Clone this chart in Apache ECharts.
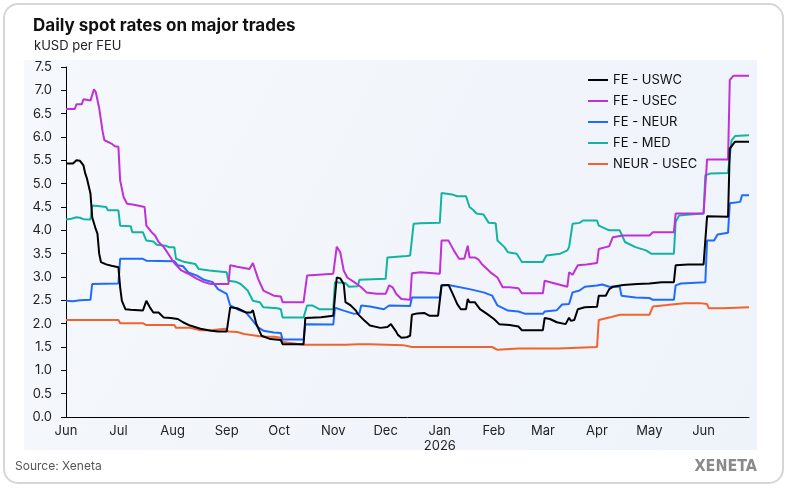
<!DOCTYPE html>
<html>
<head>
<meta charset="utf-8">
<script src="https://cdn.jsdelivr.net/npm/echarts@6/dist/echarts.min.js"></script>
<style>
  html, body { margin: 0; padding: 0; background: #fff; }
  #chart { width: 790px; height: 490px; }
</style>
</head>
<body>
<div id="chart"></div>
<script>
// day offset from 1 Jun 2025, value in kUSD/FEU
const startDate = Date.UTC(2025, 5, 1)
const endDay = 391
const monthNames = ['Jan', 'Feb', 'Mar', 'Apr', 'May', 'Jun', 'Jul', 'Aug', 'Sep', 'Oct', 'Nov', 'Dec']
const seriesNames = ['FE - USWC', 'FE - USEC', 'FE - NEUR', 'FE - MED', 'NEUR - USEC']
const seriesColors = ['#000000', '#c030d6', '#1f6bff', '#13b3a1', '#f0632f']

const uswc = [
  [0, 5.43], [4, 5.43], [6, 5.50], [8, 5.49], [10, 5.39], [11, 5.22], [12, 5.11], [14, 4.79],
  [15, 4.28], [17, 4.03], [18, 3.93], [19, 3.50], [20, 3.32], [23, 3.27], [26, 3.24], [30, 3.21],
  [31, 2.78], [32, 2.49], [34, 2.31], [37, 2.30], [44, 2.28], [46, 2.49], [48, 2.35], [50, 2.24],
  [53, 2.24], [56, 2.13], [60, 2.12], [64, 2.10], [67, 2.03], [71, 1.96], [77, 1.89], [83, 1.85],
  [87, 1.83], [92, 1.83], [94, 2.35], [98, 2.33], [103, 2.24], [106, 2.24], [107, 2.29], [109, 1.99],
  [112, 1.74], [117, 1.67], [123, 1.65], [124, 1.56], [136, 1.56], [137, 2.12], [146, 2.14], [153, 2.17],
  [155, 2.99], [157, 2.97], [159, 2.85], [160, 2.46], [163, 2.39], [166, 2.28], [167, 2.21], [171, 2.06],
  [174, 1.96], [180, 1.91], [184, 1.93], [186, 1.99], [189, 1.83], [190, 1.76], [192, 1.70], [195, 1.71],
  [197, 1.74], [198, 2.19], [201, 2.22], [205, 2.23], [208, 2.17], [213, 2.17], [215, 2.82], [219, 2.83],
  [221, 2.67], [224, 2.42], [226, 2.31], [229, 2.31], [230, 2.53], [231, 2.46], [234, 2.46], [235, 2.48],
  [237, 2.31], [241, 2.21], [245, 2.10], [248, 1.99], [254, 1.97], [259, 1.94], [261, 1.86], [273, 1.86],
  [274, 2.12], [277, 2.10], [281, 2.03], [286, 1.99], [288, 2.13], [289, 2.06], [291, 2.08], [293, 2.31],
  [297, 2.35], [304, 2.36], [305, 2.60], [309, 2.60], [311, 2.74], [313, 2.79], [319, 2.83], [327, 2.85],
  [334, 2.86], [341, 2.89], [348, 2.89], [349, 3.25], [356, 3.27], [365, 3.27], [367, 4.30], [379, 4.29],
  [380, 5.75], [383, 5.90], [391, 5.90]
]

const usec = [
  [0, 6.60], [5, 6.60], [6, 6.70], [9, 6.70], [10, 6.81], [14, 6.78], [16, 7.02], [17, 6.97],
  [19, 6.62], [20, 6.58], [21, 6.11], [22, 5.93], [26, 5.86], [28, 5.80], [30, 5.79], [31, 5.07],
  [33, 4.71], [35, 4.57], [39, 4.55], [45, 4.50], [46, 4.10], [49, 3.96], [51, 3.89], [53, 3.75],
  [56, 3.64], [62, 3.30], [66, 3.14], [70, 3.07], [75, 2.96], [79, 2.89], [83, 2.85], [93, 2.85],
  [94, 3.25], [98, 3.22], [105, 3.17], [107, 3.30], [110, 2.96], [113, 2.71], [119, 2.60], [123, 2.58],
  [124, 2.46], [136, 2.46], [138, 3.03], [153, 3.07], [155, 3.65], [157, 3.53], [159, 3.14], [161, 2.99],
  [165, 2.89], [169, 2.78], [172, 2.67], [178, 2.64], [183, 2.64], [185, 2.82], [187, 2.78], [189, 2.64],
  [192, 2.53], [197, 2.51], [198, 3.08], [203, 3.10], [214, 3.07], [215, 3.78], [219, 3.78], [222, 3.57],
  [225, 3.39], [228, 3.39], [230, 3.67], [231, 3.42], [234, 3.42], [236, 3.38], [238, 3.28], [243, 3.10],
  [247, 2.99], [250, 2.78], [254, 2.78], [259, 2.76], [261, 2.65], [273, 2.65], [274, 2.92], [281, 2.85],
  [287, 2.79], [288, 3.10], [290, 3.05], [291, 3.04], [293, 3.25], [298, 3.27], [304, 3.30], [305, 3.60],
  [309, 3.64], [311, 3.66], [313, 3.85], [319, 3.89], [334, 3.89], [336, 3.96], [348, 3.96], [349, 4.36],
  [365, 4.36], [367, 5.52], [379, 5.52], [380, 7.22], [382, 7.31], [391, 7.31]
]

const neur = [
  [0, 2.49], [4, 2.48], [8, 2.50], [14, 2.51], [15, 2.85], [30, 2.86], [31, 3.39], [44, 3.39],
  [46, 3.35], [62, 3.34], [64, 3.25], [67, 3.23], [70, 3.10], [75, 3.03], [79, 2.94], [84, 2.89],
  [87, 2.74], [92, 2.64], [94, 2.39], [98, 2.31], [103, 2.24], [107, 2.06], [110, 1.92], [113, 1.85],
  [119, 1.81], [123, 1.80], [124, 1.66], [136, 1.66], [137, 1.99], [153, 1.98], [154, 2.34], [159, 2.28],
  [165, 2.21], [168, 2.23], [169, 2.39], [174, 2.37], [182, 2.31], [185, 2.39], [197, 2.38], [198, 2.56],
  [214, 2.56], [215, 2.83], [219, 2.83], [231, 2.74], [239, 2.67], [244, 2.60], [247, 2.39], [253, 2.28],
  [259, 2.26], [263, 2.21], [273, 2.21], [274, 2.26], [281, 2.29], [284, 2.41], [288, 2.42], [290, 2.67],
  [294, 2.71], [297, 2.79], [304, 2.82], [307, 2.84], [311, 2.79], [317, 2.79], [318, 2.60], [326, 2.56],
  [334, 2.55], [336, 2.51], [348, 2.51], [349, 2.82], [352, 2.86], [366, 2.89], [367, 3.78], [371, 3.78],
  [373, 3.91], [379, 3.95], [380, 4.58], [386, 4.61], [387, 4.75], [391, 4.75]
]

const med = [
  [0, 4.23], [3, 4.25], [6, 4.28], [8, 4.27], [10, 4.24], [14, 4.23], [15, 4.53], [18, 4.52],
  [23, 4.50], [24, 4.43], [30, 4.43], [31, 4.10], [37, 4.09], [38, 3.96], [44, 3.96], [46, 3.78],
  [50, 3.76], [52, 3.69], [57, 3.67], [59, 3.64], [62, 3.64], [63, 3.39], [68, 3.32], [74, 3.28],
  [76, 3.17], [82, 3.14], [92, 3.10], [93, 2.92], [97, 2.90], [100, 2.85], [104, 2.71], [107, 2.49],
  [111, 2.46], [113, 2.35], [121, 2.33], [123, 2.31], [124, 2.13], [136, 2.13], [138, 2.39], [141, 2.39],
  [145, 2.31], [153, 2.31], [154, 2.89], [160, 2.87], [162, 2.79], [167, 2.80], [168, 2.94], [183, 2.96],
  [184, 3.42], [195, 3.45], [197, 3.46], [199, 4.14], [203, 4.15], [214, 4.16], [215, 4.80], [221, 4.77],
  [224, 4.73], [229, 4.73], [231, 4.50], [233, 4.44], [235, 4.36], [239, 4.34], [242, 4.16], [246, 4.15],
  [247, 3.78], [251, 3.64], [253, 3.53], [258, 3.50], [259, 3.49], [261, 3.32], [273, 3.32], [275, 3.46],
  [283, 3.50], [287, 3.57], [288, 3.64], [290, 4.14], [294, 4.16], [296, 4.21], [304, 4.21], [305, 4.10],
  [311, 4.00], [317, 4.00], [320, 3.75], [326, 3.64], [332, 3.57], [335, 3.50], [348, 3.50], [349, 4.18],
  [351, 4.32], [357, 4.34], [365, 4.36], [366, 5.18], [369, 5.22], [379, 5.23], [381, 5.93], [383, 6.02],
  [391, 6.04]
]

const neurUsec = [
  [0, 2.08], [30, 2.08], [31, 2.01], [44, 2.01], [46, 1.97], [62, 1.97], [63, 1.91], [71, 1.91],
  [77, 1.86], [83, 1.86], [91, 1.89], [93, 1.83], [98, 1.82], [102, 1.78], [113, 1.72], [119, 1.72],
  [123, 1.70], [124, 1.61], [136, 1.55], [160, 1.55], [167, 1.56], [174, 1.56], [193, 1.54], [198, 1.50],
  [220, 1.50], [244, 1.50], [247, 1.44], [259, 1.47], [282, 1.47], [283, 1.50], [304, 1.50], [305, 2.08],
  [311, 2.13], [317, 2.19], [334, 2.19], [336, 2.37], [344, 2.40], [354, 2.44], [363, 2.44], [367, 2.42],
  [368, 2.33], [376, 2.33], [391, 2.35]
]

const yTicks = { min: 0, max: 7.5, step: 0.5 }

const DAY = 86400000
const toPoints = arr => arr.map(p => [startDate + p[0] * DAY, p[1]])
const allData = [uswc, usec, neur, med, neurUsec]

const FONT = 'Inter'

const option = {
  useUTC: true,
  animation: false,
  textStyle: { fontFamily: FONT },
  title: [
    {
      text: 'Daily spot rates on major trades',
      left: 28,
      top: 12,
      textStyle: { fontSize: 17, fontWeight: 'bold', color: '#111', fontFamily: FONT }
    },
    {
      text: 'kUSD per FEU',
      left: 29,
      top: 35,
      textStyle: { fontSize: 13, fontWeight: 'normal', color: '#222', fontFamily: FONT }
    }
  ],
  graphic: [
    {
      type: 'rect',
      z: -10,
      shape: { x: 4, y: 4, width: 779, height: 479, r: 14 },
      style: { fill: '#fff', stroke: '#d6d6d6', lineWidth: 2 }
    },
    {
      type: 'rect',
      z: -9,
      shape: { x: 24, y: 60, width: 733, height: 390 },
      style: {
        fill: new echarts.graphic.LinearGradient(0, 0, 1, 1, [
          { offset: 0, color: '#f5f8fc' },
          { offset: 1, color: '#eef3fa' }
        ])
      }
    },
    {
      type: 'text',
      left: 15,
      top: 460,
      style: { text: 'Source: Xeneta', fontSize: 12, fill: '#555', fontFamily: FONT }
    },
    {
      type: 'text',
      right: 33,
      top: 459,
      style: { text: 'XENETA', font: 'bold 16px "DejaVu Sans Condensed"', fill: '#8a8a8a' }
    }
  ],
  legend: {
    orient: 'vertical',
    left: 588,
    top: 72,
    padding: 0,
    icon: 'rect',
    itemWidth: 20,
    itemHeight: 2,
    itemGap: 5,
    textStyle: { fontSize: 13, color: '#111', fontFamily: FONT, lineHeight: 16 },
    data: seriesNames
  },
  grid: { left: 66, right: 41, top: 67, bottom: 73, containLabel: false },
  xAxis: {
    type: 'time',
    min: startDate,
    max: startDate + endDay * DAY,
    splitNumber: 13,
    maxInterval: 31 * DAY,
    axisLine: { lineStyle: { color: '#000', width: 1 } },
    axisTick: { show: false },
    splitLine: { show: false },
    axisLabel: {
      color: '#222',
      fontSize: 13,
      margin: 7,
      lineHeight: 15,
      showMaxLabel: false,
      formatter: function (value) {
        const d = new Date(value)
        const m = monthNames[d.getUTCMonth()]
        return d.getUTCMonth() === 0 ? m + '\n' + d.getUTCFullYear() : m
      }
    }
  },
  yAxis: {
    type: 'value',
    min: yTicks.min,
    max: yTicks.max,
    interval: yTicks.step,
    axisLine: { show: true, lineStyle: { color: '#000', width: 1 } },
    axisTick: { show: true, length: 5, lineStyle: { color: '#000' } },
    splitLine: { show: false },
    axisLabel: {
      color: '#222',
      fontSize: 13,
      margin: 14,
      formatter: v => v.toFixed(1)
    }
  },
  series: seriesNames.map((name, i) => ({
    name: name,
    type: 'line',
    symbol: 'none',
    data: toPoints(allData[i]),
    color: seriesColors[i],
    lineStyle: { width: 2, color: seriesColors[i] },
    z: 10 - i
  }))
}

const mychart = echarts.init(document.getElementById('chart'))
mychart.setOption(option)
</script>
</body>
</html>
